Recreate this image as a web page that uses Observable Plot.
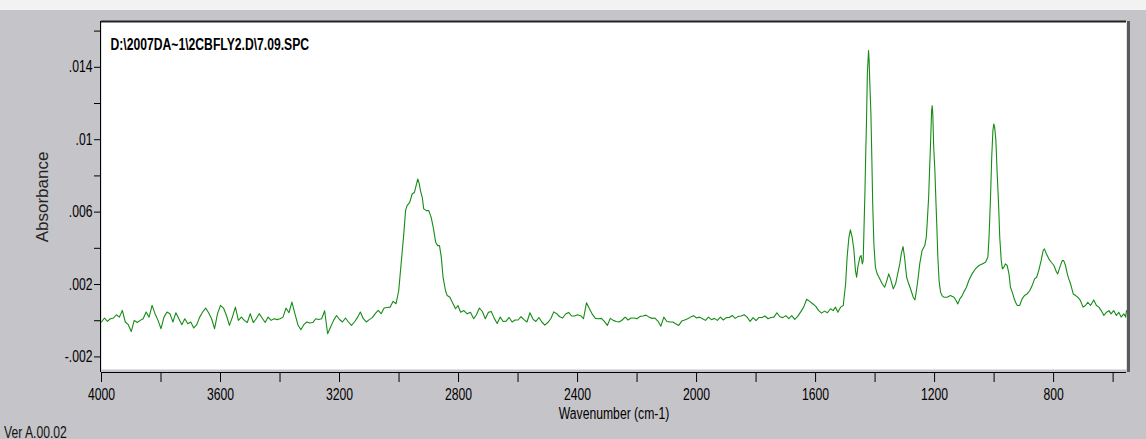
<!DOCTYPE html>
<html><head><meta charset="utf-8">
<script src="https://cdn.jsdelivr.net/npm/d3@7"></script>
<script src="https://cdn.jsdelivr.net/npm/@observablehq/plot@0.6"></script>
<style>
html,body{margin:0;padding:0;}
body{width:1146px;height:439px;background:#c5c4c8;position:relative;overflow:hidden;font-family:"Liberation Sans",Arial,sans-serif;}
#topband{position:absolute;left:0;top:0;width:1146px;height:10px;background:#f2f2f2;}
#chart{position:absolute;left:0;top:10px;}
#ver{position:absolute;left:4px;top:425px;font-size:16px;line-height:15px;color:#111;white-space:nowrap;transform:scaleX(0.76);transform-origin:0 0;}
</style></head><body>
<div id="topband"></div><div id="chart"></div><div id="ver"></div>
<script>
// ---- data ----
const wnBaseHigh = [4000,3990,3980,3970,3960,3950,3940,3930,3920,3910,3900,3890,3880,3870,3860,3850,3840,3830,3820,3810,3800,3790,3780,3770,3760,3750,3740,3730,3720,3710,3700,3690,3680,3670,3660,3650,3640,3630,3620,3610,3600,3590,3580,3570,3560,3550,3540,3530,3520,3510,3500,3490,3480,3470,3460,3450,3440,3430,3420,3410];
const absBaseHigh = [-0.00007,0.00015,-0.00004,0.00011,0.00015,0.00033,0.0002,0.00057,-0.00007,-0.00022,-0.0006,0.00002,-0.0001,0.00002,0.00011,0.00048,0.0002,0.00085,0.00039,0.00002,-0.00044,0.0002,0.00048,0.00039,-0.00007,0.00044,0.00011,-0.00022,0.00011,-0.00017,-0.00007,-0.0004,-0.00022,0.0002,0.00048,0.0007,0.00044,0.00011,-0.00044,0.00039,0.00085,0.0007,0.00029,-0.00026,0.0002,0.00075,0.00002,0.0002,0.00002,-0.0001,0.00039,-0.0001,0.00011,0.00039,0.00015,-0.0001,0.0002,0.00002,0.00011,0.00006];
const wnBaseMid = [3400,3390,3380,3370,3360,3350,3340,3330,3320,3310,3300,3290,3280,3270,3260,3250,3240,3230,3220,3210,3200,3190,3180,3170,3160,3150,3140,3130,3120,3110,3100,3090,3080,3070,3060,3050,3040,3030,3020,3010];
const absBaseMid = [0.00011,0.0002,0.0007,0.00044,0.00103,0.00039,-0.00022,-0.0005,-0.00022,-0.00007,-0.00013,-0.0001,0.00011,0.00007,0.00011,0.00055,-0.00072,-0.00035,0.00002,0.00029,0.00007,-0.00007,0.00015,-0.00007,-0.00026,-0.00007,0.00017,0.00048,0.00011,-0.00007,0.00006,0.00017,0.00039,0.00057,0.00039,0.0007,0.00073,0.00075,0.00107,0.00094];
const wnCH = [3001,2989,2984,2978,2973,2964,2956,2948,2944,2937,2932,2928,2922,2917,2908,2900,2892,2885,2877,2870,2864,2858,2852,2844,2838,2829,2821,2810,2802,2793,2782,2771,2760,2749];
const absCH = [0.00167,0.00388,0.0048,0.00608,0.00636,0.00654,0.007,0.0071,0.00737,0.00783,0.00756,0.00719,0.00682,0.00618,0.00608,0.00608,0.00571,0.00516,0.00434,0.00415,0.00415,0.00351,0.0024,0.00167,0.00139,0.0013,0.00102,0.00066,0.00084,0.00047,0.00056,0.00038,0.00047,0.00011];
const wnBaseLow = [2740,2730,2720,2710,2700,2690,2680,2670,2660,2650,2640,2630,2620,2610,2600,2590,2580,2570,2560,2550,2540,2530,2520,2510,2500,2490,2480,2470,2460,2450,2440,2430,2420,2410,2400,2390,2380,2370,2360,2350,2340,2330,2320,2310,2300,2290,2280,2270,2260,2250,2240,2230];
const absBaseLow = [0.00033,0.0007,0.00051,0.00011,0.00046,0.00051,0.00013,-0.00015,0.0002,-0.00004,-0.00002,0.00018,-0.00007,0.00004,0.00004,0.00022,0.00006,-0.00007,0.00044,0.00009,-0.00004,0.00018,-0.00007,-0.00024,-0.0001,0.00011,0.00049,0.00039,0.00022,0.00015,0.00037,0.00046,0.00026,0.00026,0.00033,0.00028,0.00011,0.00099,0.00066,0.00035,0.00013,0.00011,0.00013,-0.00004,-0.00026,0.00013,0.00002,-0.00004,-0.00007,0.00004,0.0002,0.00004];
const wnBaseFinger = [2220,2210,2200,2190,2180,2170,2160,2150,2140,2130,2120,2110,2100,2090,2080,2070,2060,2050,2040,2030,2020,2010,2000,1990,1980,1970,1960,1950,1940,1930,1920,1910,1900,1890,1880,1870,1860,1850,1840,1830,1820,1810,1800,1790,1780,1770,1760,1750,1740,1730,1720,1710,1700,1690,1680,1670,1660,1650,1640,1630,1620,1610,1600,1590,1580,1570,1560];
const absBaseFinger = [0.00015,0.00015,0.00011,0.00024,0.00026,0.00031,0.0002,0.00013,0.00015,-0.00002,-0.0003,0.0002,-0.00004,-0.00007,-0.00007,-0.00017,-0.00026,-0.00002,0.00004,0.00011,0.0002,0.00028,0.00015,0.0002,0.00011,0.00002,0.0002,0.00006,0.00013,0.00002,0.0002,0.00004,0.00017,0.00018,0.00029,0.00013,0.00024,0.00026,0.00033,0.0002,-0.00004,0.00017,0,0.00018,0.00018,0.00026,0.00011,0.00018,0.0002,0.00044,0.00022,0.00017,0.00028,0.00011,0.00028,0.00007,0.00024,0.00049,0.00075,0.00119,0.00107,0.00094,0.00081,0.00057,0.00042,0.00053,0.00044];
const wnFingerprint = [1550,1541,1533,1525,1516,1507,1499,1494,1488,1483,1477,1471,1466,1462,1458,1451,1447,1443,1440,1438,1434,1431,1429,1426,1422,1420,1418,1414,1411,1408,1404,1399,1393,1384,1376,1368,1362,1354,1348,1339,1331,1324,1317,1312,1306,1301,1294,1287,1279,1272,1266,1261,1255,1250,1242,1236,1233,1228,1225,1220,1217,1214,1210,1208,1206,1203,1199,1196,1192,1189,1185,1180,1175,1169,1158,1147,1135,1128,1122,1115,1107,1102,1093,1085,1074,1063,1051,1040,1029,1021,1017,1012,1008,1004,1001,998,994,990,985,981,976,972,967,962,956,950,945,939,934,928,922,914,906,898,889,880,872,864,857,850,842,835,831,824,816,808,799,790,786,779,771,766,760,754,749,743,734,726,719,710,701,693,685,676,665,656,648,640,631,622,614,607,598,589,581,573,564,558,555];
const absFingerprint = [0.00066,0.00056,0.00075,0.00047,0.00075,0.00084,0.00204,0.00351,0.00461,0.00502,0.00461,0.00388,0.00277,0.0024,0.00296,0.00351,0.0036,0.00314,0.00332,0.00461,0.00719,0.00958,0.01087,0.01363,0.01492,0.01436,0.01326,0.01142,0.00903,0.00645,0.00424,0.00296,0.00259,0.00231,0.00204,0.00185,0.00213,0.00259,0.00231,0.00176,0.00204,0.00259,0.00314,0.00369,0.0041,0.00351,0.0024,0.00204,0.00167,0.0013,0.00115,0.00167,0.0024,0.00314,0.00388,0.00406,0.00415,0.00461,0.00535,0.00682,0.00829,0.00958,0.0116,0.01188,0.01142,0.00958,0.00829,0.00682,0.00498,0.00351,0.00222,0.00158,0.00139,0.0013,0.0013,0.00139,0.0013,0.00112,0.00093,0.00121,0.00139,0.00158,0.00185,0.00222,0.00259,0.00286,0.00305,0.00314,0.00323,0.00351,0.00461,0.00682,0.00903,0.0105,0.01087,0.01068,0.00995,0.00829,0.00645,0.00461,0.00332,0.00286,0.00296,0.00314,0.00305,0.00259,0.00185,0.00158,0.0013,0.00102,0.00084,0.00084,0.00121,0.00139,0.00148,0.00167,0.00194,0.00231,0.0024,0.00277,0.00332,0.00388,0.00397,0.00369,0.00342,0.00323,0.00305,0.00268,0.00259,0.00296,0.00332,0.00332,0.00305,0.00259,0.00231,0.00204,0.00148,0.00139,0.0013,0.00112,0.00075,0.00084,0.00102,0.00084,0.00115,0.00084,0.00075,0.00056,0.00029,0.00047,0.00056,0.00038,0.00056,0.00029,0.00047,0.0002,0.00038,0.0002,0.00056];

// ---- ticks & text ----
const xTicksMajor = [4000,3600,3200,2800,2400,2000,1600,1200,800];
const xTicksMinor = [3800,3400,3000,2600,2200,1800,1400,1000,600];
const yTicksMajor = [0.014,0.010,0.006,0.002,-0.002];
const yTickLabels = [".014",".01",".006",".002","-.002"];
const yTicksMinor = [0.016,0.012,0.008,0.004,0];
const xDomain = [4000,555];
const yDomain = [-0.00286,0.01653];
const titleText = "D:\\2007DA~1\\2CBFLY2.D\\7.09.SPC";
const xLabel = "Wavenumber (cm-1)";
const yLabel = "Absorbance";
const versionText = "Ver A.00.02";

const wn = [].concat(wnBaseHigh, wnBaseMid, wnCH, wnBaseLow, wnBaseFinger, wnFingerprint);
const ab = [].concat(absBaseHigh, absBaseMid, absCH, absBaseLow, absBaseFinger, absFingerprint);
const spectrum = wn.map((w,i) => ({w, a: ab[i]}));

const sans = '"Liberation Sans",Arial,sans-serif';

const chart = Plot.plot({
  width: 1146, height: 429,
  marginLeft: 101, marginRight: 20, marginTop: 11, marginBottom: 67,
  style: {background: "transparent", fontFamily: sans, fontSize: "16px", color: "#000", overflow: "visible"},
  x: {domain: xDomain},
  y: {domain: yDomain},
  marks: [
    Plot.frame({fill: "white", stroke: null, insetBottom: 3}),
    Plot.ruleY([yDomain[1]], {stroke: "#222", strokeWidth: 2}),
    Plot.ruleX([xDomain[1]], {stroke: "#5a5a5a", strokeWidth: 3, dx: 2}),
    Plot.ruleX([xDomain[0]], {stroke: "#000", dx: -1}),
    Plot.ruleY([yDomain[0]], {stroke: "#000"}),
    Plot.axisX({ticks: xTicksMajor, tickSize: 10, tickPadding: 6, tickFormat: d => String(d),
      label: xLabel, labelAnchor: "center", labelArrow: "none", labelOffset: 46}),
    Plot.axisX({ticks: xTicksMinor, tickSize: 10, tickFormat: () => "", label: null}),
    Plot.axisY({ticks: yTicksMajor, tickSize: 7, tickPadding: 2,
      tickFormat: d => yTickLabels[yTicksMajor.indexOf(d)], label: null}),
    Plot.axisY({ticks: yTicksMinor, tickSize: 7, tickFormat: () => "", label: null}),
    Plot.text([yLabel], {frameAnchor: "left", dx: -59, rotate: -90, textAnchor: "middle", fontFamily: sans, fontSize: 17, fill: "#222"}),
    Plot.line(spectrum, {x: "w", y: "a", stroke: "#168c16", strokeWidth: 1.1}),
    Plot.text([titleText], {frameAnchor: "top-left", dx: 9, dy: 23, lineAnchor: "middle", textAnchor: "start", fontWeight: "bold", fontSize: 16, fill: "#000"})
  ]
});
document.getElementById("chart").appendChild(chart);
document.getElementById("ver").textContent = versionText;

// condensed look of the original instrument software: squeeze horizontal texts
d3.select(chart).selectAll("text").each(function() {
  const t = this.textContent;
  if (!t || t === yLabel) return;
  const len = this.getComputedTextLength();
  if (len > 0) {
    this.setAttribute("textLength", (len * 0.76).toFixed(1));
    this.setAttribute("lengthAdjust", "spacingAndGlyphs");
  }
});
</script>
</body></html>
